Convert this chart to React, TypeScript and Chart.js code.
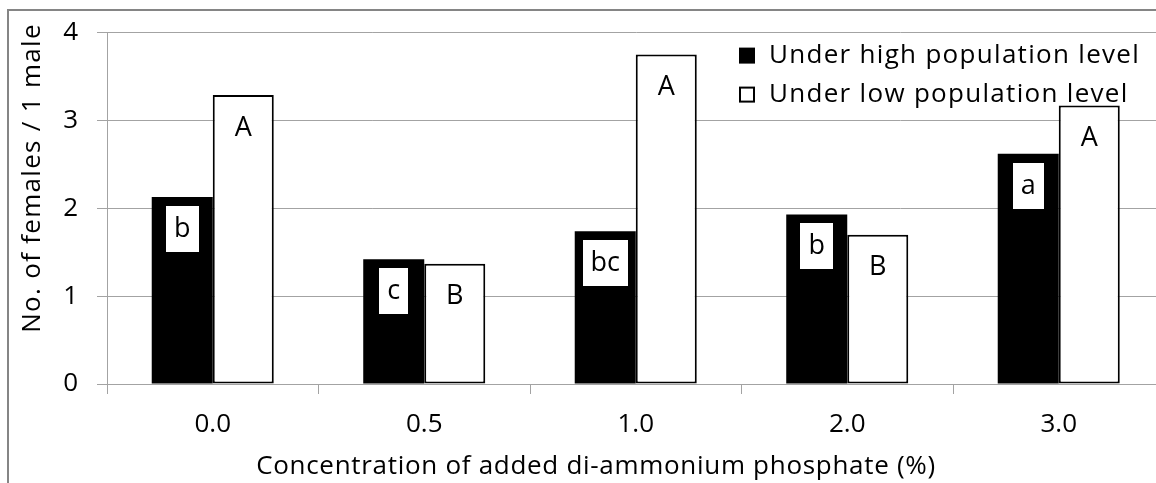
import React, { useEffect, useRef } from 'react';
import { Chart, registerables } from 'chart.js';

Chart.register(...registerables);

const categories = ['0.0', '0.5', '1.0', '2.0', '3.0'];
const highValues = [2.13, 1.42, 1.74, 1.93, 2.62];
const lowValues = [3.29, 1.37, 3.75, 1.70, 3.17];
const highLetters = ['b', 'c', 'bc', 'b', 'a'];
const lowLetters = ['A', 'B', 'A', 'B', 'A'];
const seriesNames = ['Under high population level', 'Under low population level'];
const yMin = 0;
const yMax = 4;
const yStep = 1;
const xTitle = 'Concentration of added di-ammonium phosphate (%)';
const yTitle = 'No. of females / 1 male';

const FONT = '"Open Sans", sans-serif';
const GRID = '#a3a3a3';

const overlay = {
  id: 'overlay',
  afterDatasetsDraw(chart: any) {
    const ctx = chart.ctx as any;
    const area = chart.chartArea;
    ctx.save();
    ctx.textAlign = 'center';
    ctx.textBaseline = 'middle';
    ctx.font = `27px ${FONT}`;
    const m0 = chart.getDatasetMeta(0);
    m0.data.forEach((bar: any, i: number) => {
      const t = highLetters[i];
      const w = ctx.measureText(t).width + 16;
      const h = 46;
      const top = bar.y + 9;
      ctx.fillStyle = '#ffffff';
      ctx.fillRect(Math.round(bar.x - w / 2), Math.round(top), Math.round(w), h);
      ctx.fillStyle = '#000000';
      ctx.fillText(t, bar.x, top + h / 2);
    });
    const m1 = chart.getDatasetMeta(1);
    m1.data.forEach((bar: any, i: number) => {
      ctx.fillStyle = '#000000';
      ctx.fillText(lowLetters[i], bar.x, bar.y + 33);
    });

    // legend
    ctx.font = `26px ${FONT}`;
    ctx.letterSpacing = '1.3px';
    ctx.textAlign = 'left';
    const lx = area.left + 632;
    const rows = [area.top + 23, area.top + 62];
    seriesNames.forEach((name, i) => {
      const cy = rows[i];
      if (i === 0) {
        ctx.fillStyle = '#000';
        ctx.fillRect(lx, cy - 8, 16, 16);
      } else {
        ctx.fillStyle = '#fff';
        ctx.fillRect(lx, cy - 8, 16, 16);
        ctx.strokeStyle = '#000';
        ctx.lineWidth = 2;
        ctx.strokeRect(lx + 1, cy - 7, 14, 14);
      }
      ctx.fillStyle = '#000';
      ctx.fillText(name, lx + 30, cy);
    });

    // axis titles
    ctx.textAlign = 'center';
    ctx.font = `26px ${FONT}`;
    ctx.letterSpacing = '0.7px';
    ctx.fillText(xTitle, 587, 469);
    ctx.save();
    ctx.letterSpacing = '1.3px';
    ctx.translate(24, 180);
    ctx.rotate(-Math.PI / 2);
    ctx.fillText(yTitle, 0, 0);
    ctx.restore();
    ctx.restore();
  },
};

export default function App() {
  const ref = useRef<HTMLCanvasElement | null>(null);
  useEffect(() => {
    if (!ref.current) return;
    const chart = new Chart(ref.current, {
      type: 'bar',
      data: {
        labels: categories,
        datasets: [
          {
            label: seriesNames[0],
            data: highValues,
            backgroundColor: '#000000',
            borderWidth: 0,
            categoryPercentage: 0.577,
            barPercentage: 1,
          },
          {
            label: seriesNames[1],
            data: lowValues,
            backgroundColor: '#ffffff',
            borderColor: '#000000',
            borderWidth: 2,
            borderSkipped: false,
            categoryPercentage: 0.577,
            barPercentage: 1,
          },
        ],
      },
      options: {
        responsive: false,
        animation: false,
        devicePixelRatio: 1,
        layout: { padding: { left: 0, top: 5, right: 14.5, bottom: 0 } },
        plugins: { legend: { display: false }, tooltip: { enabled: false } },
        scales: {
          x: {
            grid: { drawOnChartArea: false, drawTicks: true, tickLength: 10, color: GRID },
            border: { color: GRID },
            ticks: { color: '#000', font: { family: FONT, size: 26 }, padding: 15, maxRotation: 0 },
            afterFit: (s: any) => { s.height = 107; },
          },
          y: {
            min: yMin,
            max: yMax,
            grid: { color: GRID, tickLength: 10 },
            border: { color: GRID },
            ticks: { stepSize: yStep, color: '#000', font: { family: FONT, size: 26 }, padding: 19 },
            afterFit: (s: any) => { s.width = 98; },
          },
        },
      },
      plugins: [overlay],
    });
    return () => chart.destroy();
  }, []);
  return (
    <div style={{ position: 'absolute', left: 0, top: 0, width: 1156, height: 483, overflow: 'hidden', background: '#fff' }}>
      <canvas ref={ref} width={1170} height={493} style={{ position: 'absolute', left: 9, top: -2, display: 'block', width: 1170, height: 493 }} />
      <div style={{ position: 'absolute', left: 7, top: 9, width: 1200, height: 500, borderLeft: '2px solid #858585', borderTop: '2px solid #858585', pointerEvents: 'none' }} />
    </div>
  );
}
